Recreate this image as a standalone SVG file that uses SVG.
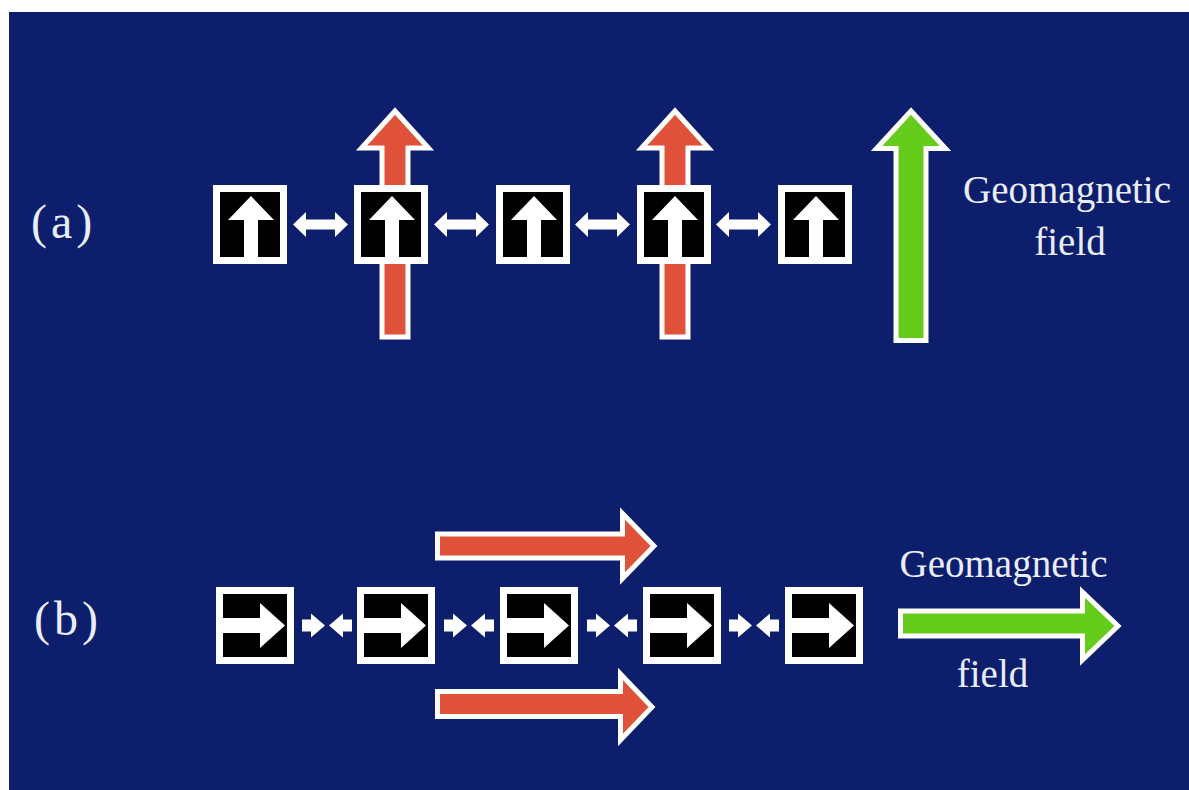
<svg xmlns="http://www.w3.org/2000/svg" width="1189" height="790" viewBox="0 0 1189 790">
  <defs>
    <style>
      .bg { fill: #0c1e6c; }
      .box { fill: #000000; stroke: #ffffff; stroke-width: 7; }
      .inner { fill: #ffffff; }
      .link { fill: #ffffff; }
      .red { fill: #e0513a; stroke: #ffffff; stroke-width: 5; stroke-linejoin: miter; }
      .green { fill: #66cc1c; stroke: #ffffff; stroke-width: 5; stroke-linejoin: miter; }
      .lbl { font-family: "Liberation Serif", "Times New Roman", serif; fill: #e8edf6; }
    </style>
    <path id="upArrow" d="M38,11 L61,35 L45,35 L45,72 L31,72 L31,35 L15,35 Z"/>
    <path id="rightArrow" d="M0,31 L44,31 L44,16 L69,38.5 L44,61 L44,46 L0,46 Z"/>
    <path id="dbl" d="M0,0 L13,-12.5 L13,-5 L42,-5 L42,-12.5 L55,0 L42,12.5 L42,5 L13,5 L13,12.5 Z"/>
    <path id="conv" d="M0,-6 L9,-6 L9,-12 L23,0 L9,12 L9,6 L0,6 Z M50,-6 L41,-6 L41,-12 L27,0 L41,12 L41,6 L50,6 Z"/>
  </defs>

  <rect x="0" y="0" width="1189" height="790" fill="#ffffff"/>
  <rect class="bg" x="9" y="12" width="1180" height="778"/>

  <!-- field arrows (a) -->
  <g id="field-arrows-a">
    <path class="red" d="M395,111 L428.5,148 L408,148 L408,337 L382,337 L382,148 L361.5,148 Z"/>
    <path class="red" d="M675,111 L708.5,148 L688,148 L688,337 L662,337 L662,148 L641.5,148 Z"/>
  </g>
  <g id="geomagnetic-a">
    <path class="green" d="M911,111 L945.5,148.5 L926,148.5 L926,340.5 L896,340.5 L896,148.5 L876.5,148.5 Z"/>
    <text class="lbl" x="1067" y="203" font-size="39" text-anchor="middle">Geomagnetic</text>
    <text class="lbl" x="1070" y="255" font-size="39" text-anchor="middle">field</text>
  </g>

  <!-- connectors (a) -->
  <g id="connectors-a">
    <use href="#dbl" class="link" x="293" y="224.5"/>
    <use href="#dbl" class="link" x="434" y="224.5"/>
    <use href="#dbl" class="link" x="575" y="224.5"/>
    <use href="#dbl" class="link" x="716" y="224.5"/>
  </g>

  <!-- nodes (a) -->
  <g id="a-node1" transform="translate(213,185)"><rect class="box" x="3.5" y="3.5" width="67" height="72"/><use href="#upArrow" class="inner"/></g>
  <g id="a-node2" transform="translate(354,185)"><rect class="box" x="3.5" y="3.5" width="67" height="72"/><use href="#upArrow" class="inner"/></g>
  <g id="a-node3" transform="translate(496,185)"><rect class="box" x="3.5" y="3.5" width="67" height="72"/><use href="#upArrow" class="inner"/></g>
  <g id="a-node4" transform="translate(637,185)"><rect class="box" x="3.5" y="3.5" width="67" height="72"/><use href="#upArrow" class="inner"/></g>
  <g id="a-node5" transform="translate(778,185)"><rect class="box" x="3.5" y="3.5" width="67" height="72"/><use href="#upArrow" class="inner"/></g>

  <text id="label-a" class="lbl" x="31" y="238" font-size="48" letter-spacing="4">(a)</text>

  <!-- field arrows (b) -->
  <g id="field-arrows-b">
    <path class="red" d="M437.5,534 L622.5,534 L622.5,513.5 L654,546 L622.5,578.5 L622.5,558 L437.5,558 Z"/>
    <path class="red" d="M437.5,691.5 L620.5,691.5 L620.5,674 L652,707 L620.5,740 L620.5,716.5 L437.5,716.5 Z"/>
  </g>
  <g id="geomagnetic-b">
    <path class="green" d="M900.5,611 L1082.5,611 L1082.5,592 L1118,626 L1082.5,660 L1082.5,636 L900.5,636 Z"/>
    <text class="lbl" x="1003.5" y="577" font-size="39" text-anchor="middle">Geomagnetic</text>
    <text class="lbl" x="992.5" y="687" font-size="39" text-anchor="middle">field</text>
  </g>

  <!-- connectors (b) -->
  <g id="connectors-b">
    <use href="#conv" class="link" x="302" y="625.5"/>
    <use href="#conv" class="link" x="444" y="625.5"/>
    <use href="#conv" class="link" x="587" y="625.5"/>
    <use href="#conv" class="link" x="729" y="625.5"/>
  </g>

  <!-- nodes (b) -->
  <g id="b-node1" transform="translate(216,587)"><rect class="box" x="3.5" y="3.5" width="71" height="70"/><use href="#rightArrow" class="inner"/></g>
  <g id="b-node2" transform="translate(357,587)"><rect class="box" x="3.5" y="3.5" width="71" height="70"/><use href="#rightArrow" class="inner"/></g>
  <g id="b-node3" transform="translate(500,587)"><rect class="box" x="3.5" y="3.5" width="71" height="70"/><use href="#rightArrow" class="inner"/></g>
  <g id="b-node4" transform="translate(643,587)"><rect class="box" x="3.5" y="3.5" width="71" height="70"/><use href="#rightArrow" class="inner"/></g>
  <g id="b-node5" transform="translate(785,587)"><rect class="box" x="3.5" y="3.5" width="71" height="70"/><use href="#rightArrow" class="inner"/></g>

  <text id="label-b" class="lbl" x="34" y="635" font-size="48" letter-spacing="4">(b)</text>
</svg>
